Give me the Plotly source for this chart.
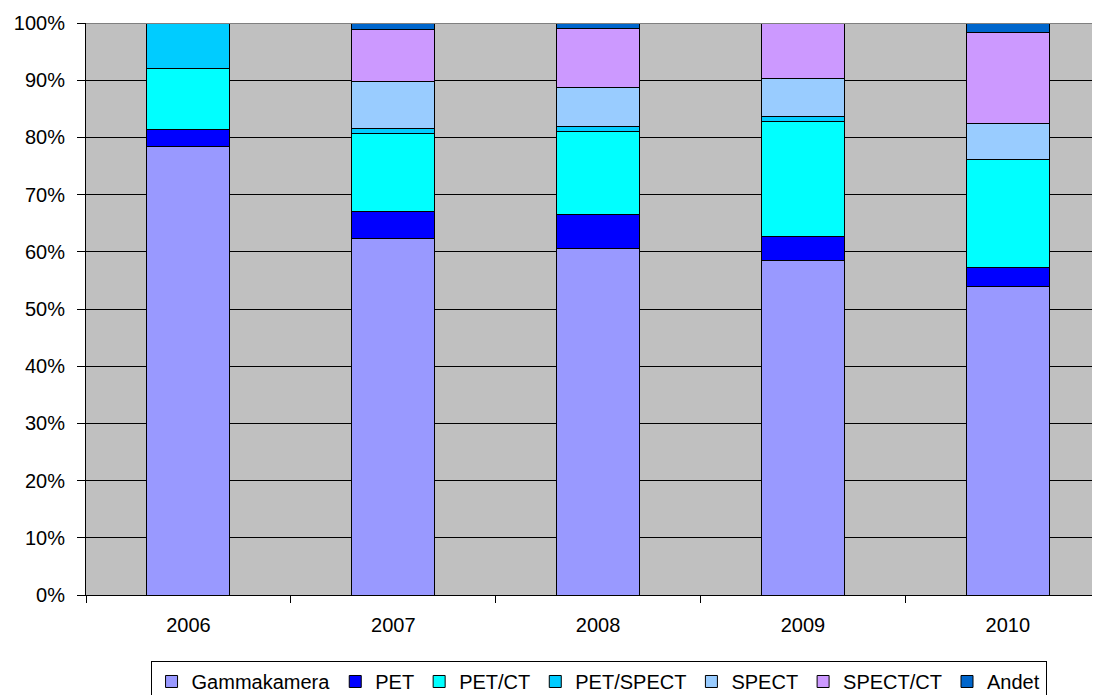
import plotly.graph_objects as go

years = ["2006", "2007", "2008", "2009", "2010"]
series_names = ["Gammakamera", "PET", "PET/CT", "PET/SPECT", "SPECT", "SPECT/CT", "Andet"]
gammakamera = [78.4, 62.4, 60.6, 58.4, 54.0]
pet = [3.0, 4.7, 6.0, 4.3, 3.3]
pet_ct = [10.7, 13.5, 14.5, 20.1, 18.9]
pet_spect = [7.9, 1.0, 0.8, 0.9, 0.0]
spect = [0.0, 8.2, 6.9, 6.6, 6.2]
spect_ct = [0.0, 9.1, 10.3, 9.7, 16.0]
andet = [0.0, 1.1, 0.9, 0.0, 1.6]
y_ticks = [0, 10, 20, 30, 40, 50, 60, 70, 80, 90, 100]
y_tick_labels = [f"{v}%" for v in y_ticks]

series_values = [gammakamera, pet, pet_ct, pet_spect, spect, spect_ct, andet]
colors = ["#9999FF", "#0000FF", "#00FFFF", "#00CCFF", "#99CCFF", "#CC99FF", "#0066CC"]

fig = go.Figure()
for name, vals, col in zip(series_names, series_values, colors):
    fig.add_trace(go.Bar(
        x=years, y=vals, name=name,
        marker=dict(color=col, line=dict(color="black", width=1)),
        width=0.405,
    ))

# page has an 8px body margin; figure sized so it fits the 1100x695 window
fig.update_layout(
    barmode="stack",
    width=1092, height=687,
    margin=dict(l=77.5, r=0, t=14.5, b=99.5),
    paper_bgcolor="white",
    plot_bgcolor="#C0C0C0",
    font=dict(family="Liberation Sans, Arial", size=20, color="black"),
    xaxis=dict(
        type="category", range=[-0.5, 4.45],
        tickson="boundaries", ticks="outside", ticklen=7, tickcolor="black",
        showline=True, linecolor="black", linewidth=1,
        showgrid=False, tickfont=dict(size=20), ticklabelstandoff=12,
    ),
    yaxis=dict(
        range=[0, 100], tickvals=y_ticks, ticktext=y_tick_labels,
        ticks="outside", ticklen=8, tickcolor="black",
        showline=True, linecolor="black", linewidth=1,
        showgrid=True, gridcolor="black", gridwidth=1,
        zeroline=False, tickfont=dict(size=20), ticklabelstandoff=8,
    ),
    legend=dict(
        orientation="h", xref="container", yref="container",
        x=0.5408, xanchor="center", y=0.0495, yanchor="top",
        bordercolor="black", borderwidth=1, bgcolor="white",
        font=dict(size=20), itemwidth=30, tracegroupgap=0,
        traceorder="normal",
    ),
    showlegend=True,
)
fig.add_shape(type="line", xref="paper", yref="y", x0=0, x1=1, y0=100, y1=100,
              line=dict(color="#808080", width=2), layer="above")
fig.write_html("out.html")
